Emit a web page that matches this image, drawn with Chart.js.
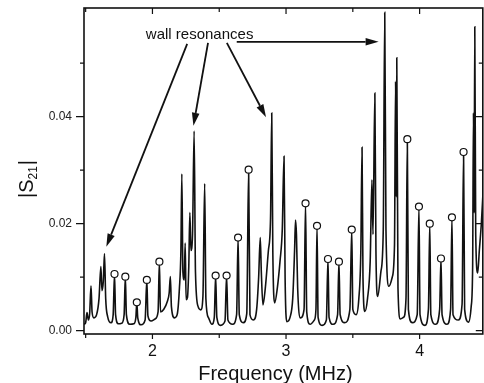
<!DOCTYPE html>
<html><head><meta charset="utf-8">
<script src="https://cdn.jsdelivr.net/npm/chart.js@4.4.1/dist/chart.umd.min.js"></script>
<style>
html,body{margin:0;padding:0;background:#fff;overflow:hidden;width:484px;height:383px;}
#wrap{position:relative;width:488px;height:383px;}
canvas{display:block;}
</style></head><body>
<div id="wrap"><canvas id="c" width="488" height="383" style="width:488px;height:383px"></canvas></div>
<script>
// Spectrum |S21| vs frequency (MHz)
const freq = [
 1.488,1.500,1.510,1.520,1.530,1.540,1.548,1.562,1.582,1.600,
 1.614,1.622,1.632,1.641,1.650,1.665,1.690,1.706,1.716,1.724,
 1.745,1.770,1.788,1.797,1.805,1.830,1.860,1.876,1.883,1.890,
 1.915,1.945,1.958,1.966,1.990,2.020,2.042,2.052,2.060,2.085,
 2.112,2.125,2.134,2.142,2.165,2.185,2.202,2.213,2.220,2.228,
 2.238,2.245,2.252,2.262,2.272,2.280,2.288,2.300,2.312,2.322,
 2.342,2.362,2.378,2.391,2.400,2.420,2.445,2.463,2.473,2.482,
 2.510,2.543,2.555,2.565,2.600,2.630,2.641,2.650,2.680,2.706,
 2.720,2.730,2.755,2.780,2.795,2.807,2.815,2.827,2.845,2.868,
 2.884,2.893,2.901,2.915,2.935,2.955,2.972,2.985,2.993,3.006,
 3.030,3.050,3.064,3.071,3.078,3.087,3.108,3.135,3.146,3.155,
 3.180,3.212,3.224,3.232,3.240,3.270,3.302,3.314,3.322,3.352,
 3.386,3.396,3.405,3.440,3.478,3.492,3.500,3.525,3.545,3.560,
 3.569,3.576,3.590,3.610,3.630,3.643,3.651,3.665,3.673,3.686,
 3.710,3.728,3.739,3.748,3.770,3.795,3.812,3.820,3.825,3.829,
 3.838,3.856,3.880,3.898,3.908,3.916,3.945,3.982,3.995,4.003,
 4.040,4.066,4.076,4.084,4.120,4.150,4.160,4.168,4.205,4.232,
 4.242,4.250,4.290,4.318,4.329,4.337,4.366,4.386,4.397,4.403,
 4.408,4.413,4.420,4.435,4.447,4.462,4.475
];
const s21 = [
 0.0012,0.0015,0.0034,0.0020,0.0032,0.0084,0.0035,0.0024,0.0030,0.0060,
 0.0120,0.0075,0.0092,0.0144,0.0060,0.0026,0.0015,0.0030,0.0106,0.0030,
 0.0013,0.0014,0.0030,0.0101,0.0030,0.0012,0.0013,0.0025,0.0053,0.0024,
 0.0011,0.0020,0.0095,0.0028,0.0018,0.0022,0.0035,0.0129,0.0035,0.0040,
 0.0055,0.0070,0.0101,0.0045,0.0024,0.0030,0.0080,0.0150,0.0293,0.0110,
 0.0095,0.0164,0.0058,0.0062,0.0120,0.0221,0.0150,0.0180,0.0373,0.0110,
 0.0045,0.0039,0.0065,0.0275,0.0060,0.0024,0.0012,0.0025,0.0103,0.0025,
 0.0010,0.0018,0.0103,0.0020,0.0012,0.0030,0.0174,0.0030,0.0015,0.0032,
 0.0301,0.0030,0.0020,0.0040,0.0100,0.0174,0.0110,0.0048,0.0080,0.0150,
 0.0210,0.0407,0.0150,0.0052,0.0080,0.0130,0.0190,0.0326,0.0100,0.0017,
 0.0025,0.0060,0.0150,0.0207,0.0180,0.0080,0.0024,0.0040,0.0238,0.0035,
 0.0012,0.0020,0.0040,0.0196,0.0025,0.0010,0.0020,0.0134,0.0025,0.0012,
 0.0030,0.0129,0.0030,0.0015,0.0040,0.0189,0.0040,0.0030,0.0060,0.0150,
 0.0343,0.0100,0.0036,0.0060,0.0130,0.0282,0.0180,0.0444,0.0150,0.0064,
 0.0110,0.0190,0.0595,0.0190,0.0083,0.0100,0.0160,0.0466,0.0250,0.0510,
 0.0080,0.0022,0.0025,0.0060,0.0358,0.0040,0.0015,0.0030,0.0232,0.0030,
 0.0010,0.0040,0.0200,0.0030,0.0012,0.0040,0.0135,0.0030,0.0012,0.0040,
 0.0212,0.0030,0.0020,0.0050,0.0334,0.0040,0.0016,0.0045,0.0120,0.0407,
 0.0220,0.0568,0.0180,0.0108,0.0150,0.0200,0.0260
];
// Marked (open circle) resonances
const markFreq = [1.716,1.797,1.883,1.958,2.052,2.473,2.555,2.641,2.720,3.146,3.232,3.314,3.396,3.492,3.908,3.995,4.076,4.160,4.242,4.329];
const markS21  = [0.0106,0.0101,0.0053,0.0095,0.0129,0.0103,0.0103,0.0174,0.0301,0.0238,0.0196,0.0134,0.0129,0.0189,0.0358,0.0232,0.0200,0.0135,0.0212,0.0334];
// Axes
const xTicks = [2, 3, 4];
const xMinor = [1.5, 2.5, 3.5];
const yTicks = [0.00, 0.02, 0.04];
const yMinor = [0.01, 0.03, 0.05];
const xTitle = 'Frequency (MHz)';
const yTitleMain = 'S';
const yTitleSub = '21';
const noteText = 'wall resonances';

// annotation geometry in data units
const notePos = {x: 2.353, y: 0.0545};
const noteArrows = [
  {x1: 2.260, y1: 0.0536, x2: 1.6547, y2: 0.0157},
  {x1: 2.416, y1: 0.0538, x2: 2.3067, y2: 0.0383},
  {x1: 2.557, y1: 0.0538, x2: 2.8503, y2: 0.0399},
  {x1: 2.631, y1: 0.0540, x2: 3.693, y2: 0.0540}
];

const FONT = '"Liberation Sans", Arial, Helvetica, sans-serif';
const INK = '#111111';

const decor = {
  id: 'decor',
  afterDatasetsDraw(chart) {
    const {ctx, chartArea: a, scales: {x, y}} = chart;
    ctx.save();
    ctx.strokeStyle = INK;
    ctx.lineWidth = 1.6;
    ctx.strokeRect(a.left, a.top, a.right - a.left, a.bottom - a.top);
    ctx.lineWidth = 1.2;
    ctx.beginPath();
    const seg = (x1, y1, x2, y2) => { ctx.moveTo(x1, y1); ctx.lineTo(x2, y2); };
    xTicks.forEach(v => { const p = x.getPixelForValue(v); seg(p, a.bottom, p, a.bottom + 5); seg(p, a.top, p, a.top + 6); });
    xMinor.forEach(v => { const p = x.getPixelForValue(v); seg(p, a.bottom, p, a.bottom + 4); seg(p, a.top, p, a.top + 4); });
    yTicks.forEach(v => { const p = y.getPixelForValue(v); seg(a.left - 8, p, a.left, p); seg(a.right - 7, p, a.right, p); });
    yMinor.forEach(v => { const p = y.getPixelForValue(v); seg(a.left - 4, p, a.left, p); seg(a.right - 4, p, a.right, p); });
    ctx.stroke();

    // annotation text
    ctx.fillStyle = INK;
    ctx.font = '15px ' + FONT;
    ctx.textAlign = 'center';
    ctx.textBaseline = 'alphabetic';
    ctx.fillText(noteText, x.getPixelForValue(notePos.x), y.getPixelForValue(notePos.y));

    // arrows
    ctx.lineWidth = 1.8;
    noteArrows.forEach(ar => {
      const x1 = x.getPixelForValue(ar.x1), y1 = y.getPixelForValue(ar.y1);
      const x2 = x.getPixelForValue(ar.x2), y2 = y.getPixelForValue(ar.y2);
      const ang = Math.atan2(y2 - y1, x2 - x1);
      const hl = 13, hw = 3.8;
      const bx = x2 - hl * Math.cos(ang), by = y2 - hl * Math.sin(ang);
      ctx.beginPath(); ctx.moveTo(x1, y1); ctx.lineTo(bx, by); ctx.stroke();
      ctx.beginPath();
      ctx.moveTo(x2, y2);
      ctx.lineTo(bx + hw * Math.sin(ang), by - hw * Math.cos(ang));
      ctx.lineTo(bx - hw * Math.sin(ang), by + hw * Math.cos(ang));
      ctx.closePath(); ctx.fill();
    });

    // x title
    ctx.font = '20px ' + FONT;
    ctx.textAlign = 'center';
    ctx.fillText(xTitle, (a.left + a.right) / 2 - 8, 380);

    // y title |S21|
    ctx.save();
    ctx.translate(33, (a.top + a.bottom) / 2 + 8);
    ctx.rotate(-Math.PI / 2);
    ctx.textAlign = 'left';
    const fMain = '20px ' + FONT, fSub = '12px ' + FONT;
    ctx.font = fMain; const wBar = ctx.measureText('|').width, wS = ctx.measureText(yTitleMain).width;
    ctx.font = fSub; const wSub = ctx.measureText(yTitleSub).width;
    const total = wBar * 2 + wS + wSub + 1;
    let cx = -total / 2;
    ctx.font = fMain; ctx.fillText('|', cx, 0); cx += wBar;
    ctx.fillText(yTitleMain, cx, 0); cx += wS;
    ctx.font = fSub; ctx.fillText(yTitleSub, cx, 4); cx += wSub + 1;
    ctx.font = fMain; ctx.fillText('|', cx, 0);
    ctx.restore();
    ctx.restore();
  }
};

const noPad = s => { s.paddingTop = 0; s.paddingBottom = 0; s.paddingLeft = 0; s.paddingRight = 0; };

new Chart(document.getElementById('c'), {
  type: 'line',
  data: {
    datasets: [
      {
        data: markFreq.map((f, i) => ({x: f, y: markS21[i]})),
        showLine: false, pointRadius: 3.5, pointBackgroundColor: '#fff',
        pointBorderColor: INK, pointBorderWidth: 1.2, order: 0
      },
      {
        data: freq.map((f, i) => ({x: f, y: s21[i]})),
        borderColor: INK, borderWidth: 1.6, pointRadius: 0,
        cubicInterpolationMode: 'monotone', fill: false, order: 1
      }
    ]
  },
  options: {
    responsive: false, animation: false, devicePixelRatio: 1,
    layout: {padding: {left: 0, top: 8, right: 2, bottom: 0}},
    plugins: {legend: {display: false}, tooltip: {enabled: false}},
    scales: {
      x: {
        type: 'linear', min: 1.4876, max: 4.473,
        afterBuildTicks: s => { s.ticks = xTicks.map(v => ({value: v})); },
        afterFit: s => { s.height = 49; noPad(s); },
        grid: {display: false, drawTicks: false}, border: {display: false},
        ticks: {padding: 8, color: INK, font: {size: 16, family: FONT}, callback: v => String(v), maxRotation: 0, autoSkip: false}
      },
      y: {
        type: 'linear', min: -0.000617, max: 0.06032,
        afterBuildTicks: s => { s.ticks = yTicks.map(v => ({value: v})); },
        afterFit: s => { s.width = 84; noPad(s); },
        grid: {display: false, drawTicks: false}, border: {display: false},
        ticks: {padding: 12, color: '#222', font: {size: 12, family: FONT}, callback: v => Number(v).toFixed(2), autoSkip: false}
      }
    }
  },
  plugins: [decor]
});
</script>
</body></html>
